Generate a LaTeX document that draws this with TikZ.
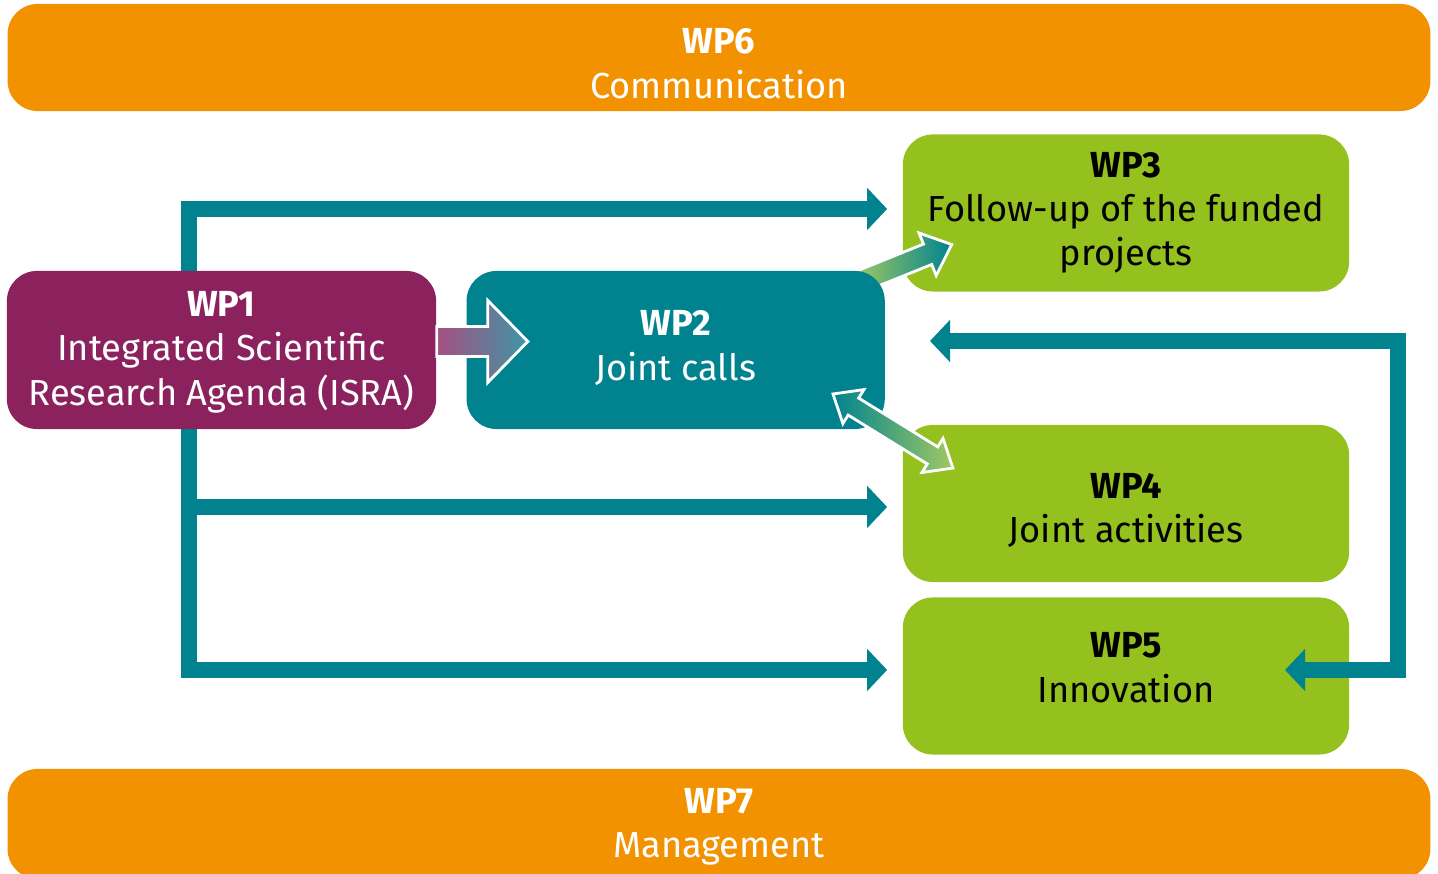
\documentclass[tikz,border=0pt]{standalone}
\usepackage{fontspec}
\setmainfont{Fira Sans}
\usepackage{tikz}
\usetikzlibrary{arrows.meta,positioning}
\definecolor{wporange}{RGB}{243,146,0}
\definecolor{wppurple}{RGB}{139,34,94}
\definecolor{wpteal}{RGB}{0,131,143}
\definecolor{wpgreen}{RGB}{149,193,31}
\definecolor{wpmauve}{RGB}{164,80,128}
\definecolor{wpsea}{RGB}{62,150,166}
\definecolor{wpmint}{RGB}{0,156,134}
\definecolor{wplime}{RGB}{160,200,100}
% struts to nudge the text of a box down or up
\newcommand\wpdown[1]{\rule{0pt}{\dimexpr7.2pt+#1\relax}}
\newcommand\wpup[1]{\rule[-#1]{0pt}{0pt}}
\tikzset{
  wpbox/.style={rounded corners=0.3cm,align=center,inner sep=0pt,
    font=\fontsize{10.3}{12.6}\selectfont},
  wide/.style={wpbox,fill=wporange,text=white,minimum width=14.22cm,minimum height=1.07cm},
  core/.style={wpbox,text=white,minimum height=1.58cm},
  side/.style={wpbox,fill=wpgreen,text=black,minimum width=4.46cm,minimum height=1.57cm},
  flow/.style={draw=wpteal,line width=0.16cm,>={Triangle[width=0.41cm,length=0.2cm]}},
  fat/.style={draw=white,line width=0.028cm,line join=miter}
}

\begin{document}
\begin{tikzpicture}[x=0.01cm,y=-0.01cm]
  \useasboundingbox (0,0) rectangle (1438,874);
  % orange bands
  \node[wide] (wp6) at (719,57.5) {\wpdown{3.4pt}\textbf{WP6}\\Communication};
  \node[wide,minimum height=1.1cm] (wp7) at (719,824) {\wpdown{1.4pt}\textbf{WP7}\\Management};
  % green work packages
  \node[side] (wp3) at (1126,213) {\textbf{WP3}\\Follow-up of the funded\\projects};
  \node[side] (wp4) at (1126,503.5) {\wpdown{4pt}\textbf{WP4}\\Joint activities};
  \node[side,below=0.14cm of wp4] (wp5) {\textbf{WP5}\\Innovation\wpup{4.8pt}};
  % connectors from WP1
  \coordinate (spinetop) at (189,209);
  \coordinate (spinemid) at (189,507);
  \coordinate (spinebot) at (189,670);
  \draw[flow,<->] ([xshift=-0.15cm]spinetop -| wp3.west) -- (spinetop)
    -- (spinebot) -- ([xshift=-0.15cm]spinebot -| wp5.west);
  \draw[flow,->] (spinemid) -- ([xshift=-0.15cm]spinemid -| wp4.west);
  % WP2 to WP3
  \begin{scope}[shift={(859,282)},rotate=22]
    \shade[fat,left color=wplime,middle color=wpmint,right color=wpteal]
      (0,-11) -- (74,-11) -- (74,-23) -- (100,0) -- (74,23) -- (74,11) -- (0,11) -- cycle;
  \end{scope}
  % blue and purple work packages
  \node[core,fill=wppurple,minimum width=4.29cm] (wp1) at (221.5,350)
    {\wpdown{1.2pt}\textbf{WP1}\\Integrated Scientific\\Research Agenda (ISRA)};
  \node[core,fill=wpteal,minimum width=4.18cm,right=0.29cm of wp1] (wp2)
    {\textbf{WP2}\\Joint calls\wpup{2.6pt}};
  % WP1 to WP2
  \begin{scope}[shift={([yshift=0.085cm]wp1.east)}]
    \shade[fat,left color=wpmauve,right color=wpsea]
      (0,-15) -- (51,-15) -- (51,-41) -- (91,0) -- (51,41) -- (51,15) -- (0,15) -- cycle;
  \end{scope}
  % WP2 and WP4
  \begin{scope}[shift={(833,394)},rotate=-31.7]
    \shade[fat,left color=wpteal,middle color=wpmint,right color=wplime]
      (0,0) -- (24,-20) -- (24,-10) -- (117,-10) -- (117,-20) -- (141,0)
      -- (117,20) -- (117,10) -- (24,10) -- (24,20) -- cycle;
  \end{scope}
  % loop back from WP5
  \coordinate (loopend) at (930,341);
  \coordinate (loopcorner) at (1398,341);
  \coordinate (loopin) at (1285,670);
  \draw[flow,<->] (loopend) -- (loopcorner) -- (loopcorner |- loopin) -- (loopin);
\end{tikzpicture}
\end{document}
